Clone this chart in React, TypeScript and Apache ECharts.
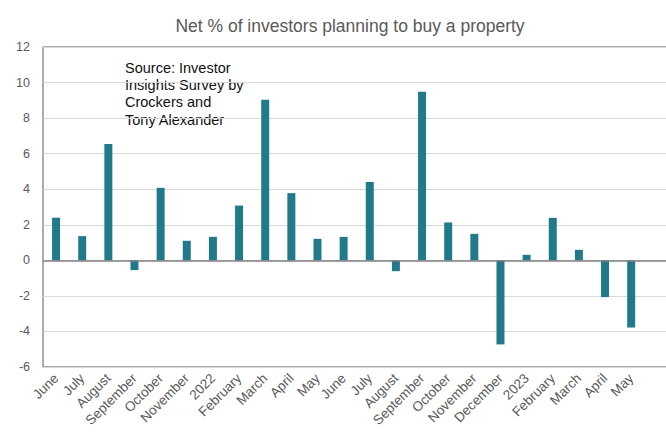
import React, { useEffect, useRef } from "react";
import * as echarts from "echarts";

const categories = [
  "June", "July", "August", "September", "October", "November", "2022",
  "February", "March", "April", "May", "June", "July", "August", "September",
  "October", "November", "December", "2023", "February", "March", "April", "May", "",
];
const values: (number | null)[] = [
  2.4, 1.36, 6.55, -0.55, 4.08, 1.1, 1.32, 3.08, 9.03, 3.78, 1.21, 1.32, 4.41,
  -0.61, 9.48, 2.13, 1.49, -4.73, 0.31, 2.39, 0.59, -2.07, -3.78, null,
];
const titleText = "Net % of investors planning to buy a property";
const noteText = "Source: Investor\nInsights Survey by\nCrockers and\nTony Alexander";

export default function App() {
  const ref = useRef<HTMLDivElement>(null);
  useEffect(() => {
    if (!ref.current) return;
    const chart = echarts.init(ref.current, null, { renderer: "svg" });
    const font = "Liberation Sans, Arial, sans-serif";
    chart.setOption({
      animation: false,
      textStyle: { fontFamily: font },
      title: {
        text: titleText,
        left: 345,
        textAlign: "center",
        top: 12,
        textStyle: { fontSize: 17.5, fontWeight: "normal", color: "#595959", fontFamily: font },
      },
      grid: {
        left: 43,
        right: 0.6,
        top: 47,
        bottom: 68,
        show: true,
        borderColor: "#595959",
        borderWidth: 1,
        backgroundColor: "transparent",
      },
      xAxis: {
        type: "category",
        data: categories,
        axisLine: { show: false, onZero: false },
        axisTick: { show: false },
        axisLabel: {
          rotate: 45,
          interval: 0,
          fontSize: 13.5,
          color: "#595959",
          margin: 9,
          fontFamily: font,
        },
      },
      yAxis: {
        type: "value",
        min: -6,
        max: 12,
        interval: 2,
        axisLine: { show: false },
        axisTick: { show: false },
        axisLabel: { fontSize: 12.5, color: "#595959", margin: 13, fontFamily: font },
        splitLine: { lineStyle: { color: "#d9d9d9", width: 1 } },
      },
      series: [
        {
          type: "bar",
          data: values,
          barWidth: 8,
          itemStyle: { color: "#217a8a" },
          markLine: {
            silent: true,
            symbol: "none",
            label: { show: false },
            lineStyle: { color: "#7f7f7f", width: 1.5, type: "solid" },
            data: [{ yAxis: 0 }],
          },
        },
      ],
      graphic: [
        {
          type: "text",
          left: 125,
          top: 59,
          style: {
            text: noteText,
            fontSize: 14.5,
            lineHeight: 17.3,
            fill: "#111111",
            fontFamily: font,
          },
        },
      ],
    });
    return () => chart.dispose();
  }, []);
  return (
    <div style={{ width: 666, height: 435, position: "absolute", left: 0, top: 0, overflow: "hidden" }}>
      <div ref={ref} style={{ width: 671, height: 435 }} />
    </div>
  );
}
